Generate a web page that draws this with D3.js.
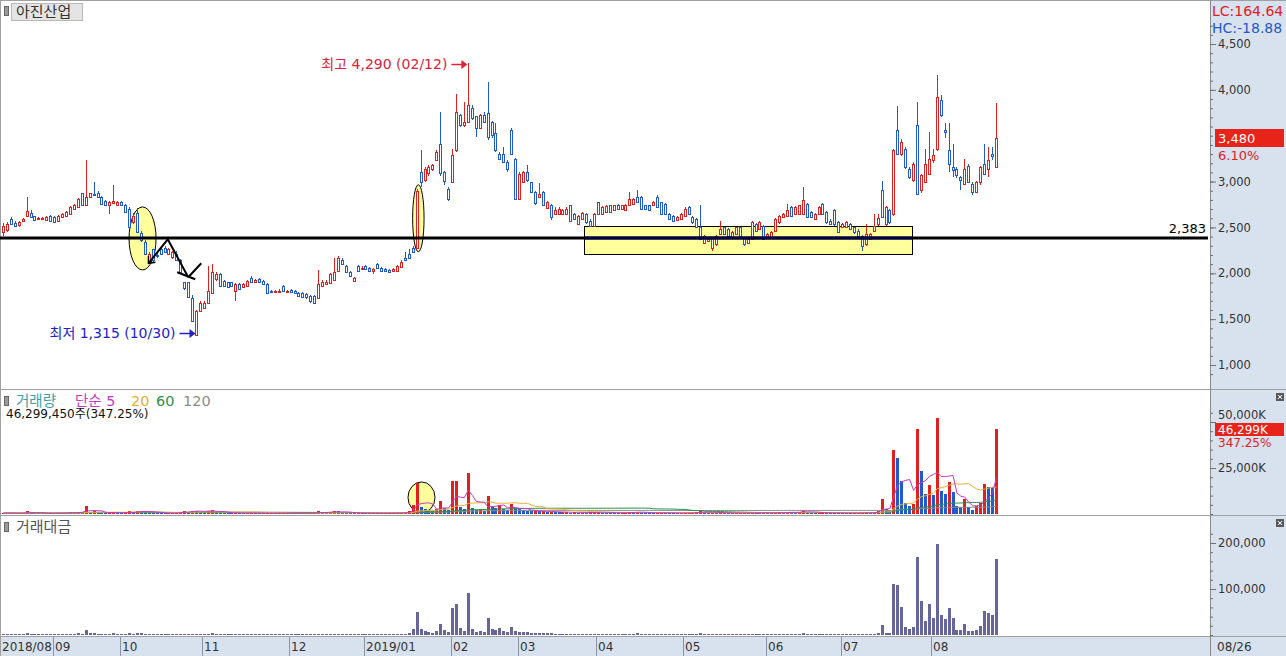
<!DOCTYPE html>
<html>
<head>
<meta charset="utf-8">
<script src="https://cdnjs.cloudflare.com/ajax/libs/d3/7.8.5/d3.min.js"></script>
<style>
  body { margin: 0; background: #fff; overflow: hidden; }
  svg { display: block; font-family: "DejaVu Sans", "Noto Sans CJK KR", sans-serif; }
</style>
</head>
<body>
<div id="chart"></div>
<script>
// Daily candles 2018/08 .. 2019/08/26, one row per month
var monthStart = [0, 13, 30, 51, 73, 92, 114, 131, 151, 173, 194, 213, 236];
var monthLabel = ["2018/08", "09", "10", "11", "12", "2019/01", "02", "03", "04", "05", "06", "07", "08"];
var lastDate = "08/26";

var openPx = [
  2450,2470,2590,2550,2530,2570,2630,2660,2620,2590,2595,2580,2630,
  2610,2575,2610,2630,2650,2700,2720,2870,2750,2830,2860,2880,2830,2790,2750,2770,2740,
  2775,2750,2700,2560,2660,2440,2340,2120,2260,2200,2260,2280,2210,2180,2210,2140,1900,1900,1730,1330,1590,
  1625,1680,1790,1935,1990,1920,1900,1900,1810,1880,1850,1860,1950,1900,1940,1920,1880,1810,1800,1810,1860,1800,
  1820,1810,1790,1790,1770,1750,1750,1730,1860,1880,1890,1930,2030,2150,2080,2010,1920,2080,2050,
  2080,2060,2030,2100,2060,2050,2040,2020,2030,2070,2170,2210,2280,2280,3100,3020,3090,3140,3230,3415,3100,2920,
  2995,3340,3725,3615,3650,3800,3710,3580,3725,3745,3650,3525,3305,3305,3215,3560,3250,
  2810,2995,3105,2995,2885,2830,2885,2715,2740,2650,2650,2650,2650,2740,2650,2540,2595,2650,2575,2520,
  2775,2650,2665,2740,2685,2750,2700,2685,2740,2760,2830,2830,2740,2740,2740,2830,2775,2755,2650,2630,2580,2595,
  2630,2720,2610,2595,2500,2335,2355,2280,2320,2430,2500,2485,2390,2430,2500,2390,2335,2375,2540,2485,2520,
  2390,2390,2465,2555,2610,2630,2720,2650,2650,2650,2755,2665,2595,2650,2755,2665,2575,2685,2555,
  2500,2500,2540,2500,2465,2410,2320,2375,2465,2540,2905,2540,2685,2650,3560,3305,3360,3140,3015,3615,2905,2995,3085,
  3230,3360,3890,3560,3340,3160,3140,3050,2975,3175,2975,2885,2995,3195,3140,3305,3160
];
var highPx = [
  2550,2560,2610,2565,2570,2600,2830,2690,2630,2610,2610,2620,2640,
  2620,2640,2660,2680,2730,2760,2820,2880,3230,2880,2990,2900,2840,2800,2790,2960,2790,
  2790,2760,2720,2660,2710,2460,2360,2230,2270,2220,2280,2300,2280,2240,2240,2160,1910,1910,1760,1600,1700,
  1700,2080,2100,2010,2000,1930,1910,1910,1890,1890,1890,1930,1970,1940,1950,1930,1890,1820,1820,1830,1870,1820,
  1830,1820,1800,1800,1780,1760,1760,2040,1930,1930,2000,2170,2190,2170,2090,2020,1960,2090,2080,
  2090,2070,2060,2110,2070,2060,2050,2060,2090,2140,2230,2260,2300,2920,3340,3160,3180,3190,3340,3760,3120,2940,
  3360,3960,3740,3870,4290,3830,3720,3740,3760,4090,3660,3635,3320,3380,3240,3580,3260,
  3100,3120,3180,3000,2900,2980,2900,2790,2760,2720,2720,2700,2720,2750,2660,2640,2670,2660,2590,2660,
  2780,2730,2740,2750,2750,2760,2750,2760,2885,2820,2910,2840,2750,2750,2790,2850,2780,2770,2660,2640,2620,2660,
  2720,2730,2620,2600,2740,2420,2390,2400,2420,2575,2510,2490,2460,2510,2510,2400,2390,2570,2550,2570,2530,
  2440,2460,2600,2640,2660,2760,2730,2730,2750,2940,2770,2680,2660,2730,2770,2680,2590,2700,2570,
  2550,2570,2550,2510,2480,2420,2540,2440,2650,2650,3010,2730,2700,3350,3820,3460,3380,3160,3210,3870,3080,3360,3540,
  3360,4165,3945,3635,3635,3415,3160,3060,3250,3190,2990,3010,3175,3415,3380,3380,3855
];
var lowPx = [
  2410,2450,2530,2510,2500,2560,2620,2600,2570,2580,2585,2570,2560,
  2550,2570,2600,2620,2640,2690,2710,2730,2740,2820,2840,2820,2750,2730,2650,2760,2730,
  2730,2660,2480,2540,2440,2340,2200,2100,2120,2170,2200,2220,2200,2160,2130,2000,1820,1730,1470,1315,1580,
  1610,1670,1780,1920,1850,1850,1840,1850,1700,1820,1840,1850,1890,1890,1890,1870,1780,1790,1790,1800,1800,1790,
  1790,1780,1740,1730,1720,1680,1670,1720,1850,1870,1880,1920,2020,2090,2000,1960,1910,2020,2040,
  2040,2020,1990,2050,2020,2010,2000,2010,2020,2060,2130,2160,2220,2270,2940,3000,3060,3120,3220,3060,2960,2790,
  2980,3320,3600,3600,3640,3670,3490,3570,3640,3450,3470,3320,3230,3200,3100,3290,2800,
  2800,2980,2990,2870,2750,2820,2730,2700,2580,2640,2640,2640,2640,2560,2580,2530,2580,2540,2500,2510,
  2640,2640,2660,2660,2680,2690,2690,2680,2730,2750,2770,2700,2690,2680,2730,2710,2640,2640,2580,2560,2570,2580,
  2620,2640,2540,2490,2360,2320,2340,2245,2300,2420,2420,2400,2380,2420,2400,2300,2330,2360,2450,2470,2360,
  2380,2380,2450,2540,2600,2620,2620,2640,2640,2640,2600,2600,2580,2640,2640,2540,2530,2520,2440,
  2490,2490,2470,2430,2400,2245,2300,2360,2450,2520,2600,2520,2540,2620,3290,3280,3140,3030,2990,2850,2880,2980,3070,
  3200,3330,3700,3480,3100,3050,3040,2905,2960,2980,2850,2870,2960,3070,3050,3240,3150
];
var closePx = [
  2520,2540,2540,2520,2555,2590,2680,2610,2580,2600,2600,2610,2570,
  2560,2630,2650,2665,2720,2750,2810,2740,2830,2870,2850,2830,2760,2740,2775,2790,2780,
  2740,2670,2500,2630,2450,2360,2210,2210,2140,2190,2210,2230,2260,2230,2140,2010,1840,1740,1480,1590,1680,
  1680,1810,2010,1990,1860,1860,1850,1860,1880,1830,1880,1920,1900,1930,1900,1880,1790,1800,1810,1810,1810,1810,
  1800,1790,1750,1740,1740,1700,1680,1880,1910,1910,1990,2010,2170,2100,2010,1970,1950,2030,2060,
  2050,2030,2050,2060,2030,2020,2010,2050,2080,2120,2140,2170,2230,2900,2990,3140,3160,3180,3320,3090,3010,2810,
  3285,3760,3615,3650,3835,3690,3580,3725,3650,3490,3505,3340,3250,3215,3140,3305,2810,
  3085,3105,3015,2885,2765,2860,2740,2775,2610,2685,2700,2685,2700,2575,2595,2630,2660,2555,2520,2650,
  2650,2720,2730,2665,2740,2700,2740,2750,2810,2810,2775,2705,2705,2685,2775,2720,2650,2650,2595,2575,2610,2650,
  2705,2650,2555,2500,2375,2410,2375,2390,2410,2485,2430,2410,2445,2500,2410,2320,2375,2555,2465,2555,2375,
  2430,2445,2595,2630,2650,2685,2630,2720,2740,2795,2610,2610,2650,2720,2650,2555,2540,2540,2445,
  2540,2555,2485,2445,2410,2300,2430,2430,2520,2600,2610,2720,2555,3340,3305,3435,3160,3050,3195,2865,3070,3195,3250,
  3285,3925,3725,3545,3195,3125,3070,3015,3140,2995,2885,2995,3160,3085,3230,3280,3480
];
// volume, thousand shares
var volumeK = [
  500,450,600,380,420,520,1500,700,480,350,300,420,380,
  400,650,500,550,900,800,1200,1100,4300,1300,1500,700,600,500,800,1200,600,
  450,600,1500,900,1700,1600,1400,900,700,500,450,420,500,480,700,1200,1500,1300,1900,1800,1300,
  1000,1800,2200,1100,800,600,500,450,600,400,380,450,500,420,400,380,500,350,300,330,400,350,
  330,300,350,380,420,500,600,1500,900,700,1100,1600,1400,900,700,500,450,600,400,
  380,350,420,400,350,300,320,380,500,700,900,1500,4900,16700,4000,2700,2000,1500,2500,7100,3300,2000,
  18000,18200,4000,2500,22500,3300,2000,2500,1800,9800,4000,3000,4900,2500,2000,5300,3000,
  2500,2000,1800,1500,1600,1400,1500,1200,1300,1000,900,1000,1100,800,900,700,800,750,900,1000,
  1100,800,700,650,600,550,700,800,1000,900,1300,800,600,550,500,700,800,600,550,500,450,500,
  600,700,800,900,1500,1000,700,800,600,900,600,500,450,500,550,600,450,800,600,500,700,
  500,450,800,900,700,1200,900,800,1100,2000,1200,700,500,600,700,800,500,450,600,
  500,450,400,420,500,800,900,600,700,1500,8100,2500,2000,35000,30400,18000,6000,4300,5400,46400,23500,11000,16000,
  10500,52000,12300,10900,17400,12000,4200,3800,8300,3700,2300,4200,6000,16300,14900,14500,46299
];
// trading value, million won
var amountM = [
  1200,1100,1500,950,1050,1300,4000,1800,1200,900,780,1080,970,
  1000,1700,1300,1450,2400,2200,3300,3100,11000,3700,4300,2000,1700,1400,2200,3300,1650,
  1250,1600,3800,2300,4300,3700,3100,1900,1500,1100,990,930,1100,1060,1500,2400,2800,2300,2900,2600,2100,
  1700,3200,4300,2200,1500,1100,900,850,1100,740,700,850,950,800,760,700,900,630,540,600,720,630,
  600,540,620,670,740,860,1020,2700,1700,1300,2100,3100,2900,1900,1450,1000,880,1220,820,
  790,720,860,830,720,610,650,770,1030,1470,1950,3300,13000,50700,12300,8300,6200,4700,8000,24000,10200,5800,
  59000,66700,14500,9000,92000,12000,7200,9100,6600,36000,14000,10300,16000,8000,6300,17000,9000,
  7500,6200,5500,4400,4500,4000,4200,3300,3500,2700,2400,2700,2900,2100,2400,1850,2100,1950,2300,2600,
  2900,2200,1900,1780,1650,1510,1920,2200,2800,2500,3600,2200,1630,1490,1380,1930,2150,1600,1430,1300,1170,1310,
  1600,1850,2080,2290,3700,2400,1660,1880,1420,2200,1480,1220,1090,1230,1350,1410,1060,1940,1500,1250,1700,
  1200,1100,2000,2300,1830,3150,2400,2100,2950,5000,3200,1850,1310,1580,1880,2100,1290,1160,1500,
  1260,1140,1000,1040,1220,1900,2100,1440,1700,3900,21700,5000,5000,111000,108000,61000,17400,13000,16600,170000,74000,30400,66700,
  38000,198000,43500,35000,58000,38000,11000,10000,23000,9000,8000,10000,19000,52000,47000,43500,165000
];

var priceTicks = [1000, 1500, 2000, 2500, 3000, 4000, 4500]; // 3,500 sits under the close flag
var volumeTicks = [25000, 50000];
var amountTicks = [100000, 200000];
var maPeriods = [5, 20, 60, 120];
var supportLevel = 2383;
var highMark = { idx: 118, price: 4290, text: "최고 4,290 (02/12)" };
var lowMark = { idx: 49, price: 1315, text: "최저 1,315 (10/30)" };

var svgWidth = 1286;
var svgHeight = 656;
var plotRight = 1210;

var red = "#e0201e";
var blue = "#1f5bd0";
var axisBg = "#d8e2ee";
var lineGray = "#a0a0a0";

var n = closePx.length;

// Scales
// ==============================
var x = d3.scaleBand()
  .domain(d3.range(n))
  .range([1.5, 1.5 + n * 3.94]);
var cx = i => x(i) + x.bandwidth() / 2;
// fractional index -> pixel, for the hand drawn marks
var pos = v => x.range()[0] + (v + 0.5) * x.step();
var left = i => Math.round(cx(i) - 1.5);

var yPrice = d3.scaleLinear().domain([1000, 4500]).range([365, 44]);
var yVol = d3.scaleLinear().domain([0, 50000]).range([514, 422]);
var yAmt = d3.scaleLinear().domain([0, 200000]).range([635, 543]);

var svg = d3.select("#chart")
  .append("svg")
  .attr("width", svgWidth)
  .attr("height", svgHeight);

// Backgrounds and panel frames
// ==============================
svg.append("rect").attr("width", svgWidth).attr("height", svgHeight).attr("fill", "#fff");
svg.append("rect")
  .attr("x", plotRight).attr("y", 0)
  .attr("width", svgWidth - plotRight).attr("height", svgHeight)
  .attr("fill", axisBg);
svg.append("rect")
  .attr("x", 0).attr("y", 637)
  .attr("width", svgWidth).attr("height", 19)
  .attr("fill", axisBg);

[0.5, 389.5, 515.5, 636.5].forEach(function(yy) {
  svg.append("line")
    .attr("x1", 0).attr("x2", svgWidth)
    .attr("y1", yy).attr("y2", yy)
    .attr("stroke", lineGray);
});
svg.append("line").attr("x1", 0.5).attr("x2", 0.5).attr("y1", 0).attr("y2", 656).attr("stroke", lineGray);
svg.append("line").attr("x1", plotRight + 0.5).attr("x2", plotRight + 0.5).attr("y1", 0).attr("y2", 656).attr("stroke", "#8a8a8a");

// Annotations under the candles
// ==============================
var annot = svg.append("g");
annot.append("ellipse")
  .attr("cx", pos(35.3)).attr("cy", yPrice(2380))
  .attr("rx", 13.5).attr("ry", 31.5)
  .attr("fill", "#ffff9c").attr("stroke", "#000");
annot.append("ellipse")
  .attr("cx", pos(105.3)).attr("cy", yPrice(2600))
  .attr("rx", 5.7).attr("ry", 33.5)
  .attr("fill", "#ffff9c").attr("stroke", "#000");
var boxL = Math.round(x(148)) - 0.5;
var boxR = Math.round(x(230) + 4) + 0.5;
annot.append("rect")
  .attr("x", boxL).attr("y", Math.round(yPrice(2517)) + 0.5)
  .attr("width", boxR - boxL)
  .attr("height", Math.round(yPrice(2212)) - Math.round(yPrice(2517)))
  .attr("fill", "#ffff9c").attr("stroke", "#000");

// Candles
// ==============================
var idx = d3.range(n);
var isUp = i => closePx[i] >= openPx[i];

var candles = svg.append("g");
candles.selectAll("line.wick")
  .data(idx)
  .enter()
  .append("line")
  .attr("x1", i => left(i) + 1.5)
  .attr("x2", i => left(i) + 1.5)
  .attr("y1", i => Math.round(yPrice(highPx[i])))
  .attr("y2", i => Math.round(yPrice(lowPx[i])))
  .attr("stroke", i => isUp(i) ? red : blue);

candles.selectAll("rect.body")
  .data(idx)
  .enter()
  .append("rect")
  .attr("x", i => left(i) + 0.5)
  .attr("y", i => Math.round(yPrice(Math.max(openPx[i], closePx[i]))) + 0.5)
  .attr("width", 2)
  .attr("height", i => Math.max(1, Math.round(yPrice(Math.min(openPx[i], closePx[i]))) - Math.round(yPrice(Math.max(openPx[i], closePx[i])))))
  .attr("fill", "#fff")
  .attr("stroke", i => isUp(i) ? red : blue);

// Support line at 2,383
// ==============================
var ySup = Math.round(yPrice(supportLevel));
svg.append("line")
  .attr("x1", 0).attr("x2", plotRight - 2)
  .attr("y1", ySup).attr("y2", ySup)
  .attr("stroke", "#000").attr("stroke-width", 3);
svg.append("line")
  .attr("x1", boxL + 0.5).attr("x2", boxR - 0.5)
  .attr("y1", ySup).attr("y2", ySup)
  .attr("stroke", "#000048").attr("stroke-width", 3);
svg.append("text")
  .attr("x", plotRight - 4).attr("y", ySup - 5)
  .attr("text-anchor", "end")
  .attr("font-size", 13)
  .attr("fill", "#000")
  .text(d3.format(",")(supportLevel));

// Hand drawn arrows around the October break
var zig = [[36.8, 2109], [41.7, 2371], [46.9, 1957]];
svg.append("path")
  .attr("d", d3.line().x(d => pos(d[0])).y(d => yPrice(d[1]))(zig))
  .attr("fill", "none").attr("stroke", "#000").attr("stroke-width", 2);
var zEnd = [pos(46.9), yPrice(1957)];
svg.append("path")
  .attr("d", `M${zEnd[0] - 11},${zEnd[1] - 5}L${zEnd[0] + 7},${zEnd[1] + 2}M${zEnd[0]},${zEnd[1]}L${zEnd[0] + 13},${zEnd[1] - 14}`)
  .attr("fill", "none").attr("stroke", "#000").attr("stroke-width", 2);
var zStart = [pos(36.8), yPrice(2109)];
svg.append("path")
  .attr("d", `M${zStart[0]},${zStart[1] - 7}L${zStart[0]},${zStart[1]}L${zStart[0] + 7},${zStart[1] - 1}`)
  .attr("fill", "none").attr("stroke", "#000").attr("stroke-width", 1.5);

// High / low markers
function marker(m, color, yText) {
  var tipX = cx(m.idx) - 1;
  var g = svg.append("g");
  g.append("text")
    .attr("x", tipX - 20).attr("y", yText + 5)
    .attr("text-anchor", "end")
    .attr("font-size", 14)
    .attr("fill", color)
    .text(m.text);
  g.append("line")
    .attr("x1", tipX - 16).attr("x2", tipX - 5)
    .attr("y1", yText + 0.5).attr("y2", yText + 0.5)
    .attr("stroke", color).attr("stroke-width", 1.5);
  g.append("path")
    .attr("d", `M${tipX - 6},${yText - 4}L${tipX},${yText + 0.5}L${tipX - 6},${yText + 5}Z`)
    .attr("fill", color);
}
marker(highMark, "#e0203a", Math.round(yPrice(highMark.price)) + 1);
marker(lowMark, "#2222c8", Math.round(yPrice(lowMark.price)) - 3);

// Volume bars and averages
// ==============================
var volColor = i => (i === 0 || volumeK[i] >= volumeK[i - 1]) ? red : blue;
function volBars(g, data) {
  g.selectAll("rect")
    .data(data)
    .enter()
    .append("rect")
    .attr("x", i => left(i))
    .attr("y", i => Math.min(513, Math.round(yVol(volumeK[i]))))
    .attr("width", 3)
    .attr("height", i => 514 - Math.min(513, Math.round(yVol(volumeK[i]))))
    .attr("fill", volColor);
}
volBars(svg.append("g"), idx);

svg.append("ellipse")
  .attr("cx", pos(106.1)).attr("cy", yVol(9000))
  .attr("rx", 13.5).attr("ry", 15.5)
  .attr("fill", "#ffff9c")
  .attr("stroke", "#000");
// bars inside the ellipse stay on top of it
volBars(svg.append("g"), d3.range(102, 111));

var maColors = ["#c438c4", "#e8b030", "#2f8f48", "#8c8c8c"];
function movingAvg(arr, p) {
  return arr.map((v, i) => d3.mean(arr.slice(Math.max(0, i - p + 1), i + 1)));
}
maPeriods.slice().reverse().forEach(function(p, k) {
  var ma = movingAvg(volumeK, p);
  svg.append("path")
    .datum(ma)
    .attr("d", d3.line().x((d, i) => cx(i)).y(d => yVol(d)))
    .attr("fill", "none")
    .attr("stroke", maColors[maPeriods.length - 1 - k])
    .attr("stroke-width", 1);
});

// Trading value bars
// ==============================
svg.append("g").selectAll("rect")
  .data(idx)
  .enter()
  .append("rect")
  .attr("x", i => left(i))
  .attr("y", i => Math.min(634, Math.round(yAmt(amountM[i]))))
  .attr("width", 3)
  .attr("height", i => 635 - Math.min(634, Math.round(yAmt(amountM[i]))))
  .attr("fill", "#66669a");

// Right axes
// ==============================
function styleAxis(g) {
  g.select(".domain").remove();
  g.selectAll("line").attr("stroke", "#707070");
  g.selectAll("text").attr("font-size", 11.5).attr("fill", "#333").attr("font-family", "DejaVu Sans");
}
svg.append("g")
  .attr("transform", `translate(${plotRight},0)`)
  .call(d3.axisRight(yPrice).tickValues(d3.range(900, 4800, 100)).tickSize(3).tickFormat(""))
  .call(styleAxis);
svg.append("g")
  .attr("transform", `translate(${plotRight},0)`)
  .call(d3.axisRight(yPrice).tickValues(priceTicks).tickSize(6).tickPadding(2).tickFormat(d3.format(",")))
  .call(styleAxis);

svg.append("g")
  .attr("transform", `translate(${plotRight},0)`)
  .call(d3.axisRight(yVol).tickValues(d3.range(0, 60000, 5000)).tickSize(3).tickFormat(""))
  .call(styleAxis);
svg.append("g")
  .attr("transform", `translate(${plotRight},0)`)
  .call(d3.axisRight(yVol).tickValues(volumeTicks).tickSize(6).tickPadding(2).tickFormat(d => d3.format(",")(d) + "K"))
  .call(styleAxis)
  // the top label peeks out just above the volume flag
  .call(g => g.selectAll(".tick text").filter(d => d === 50000).attr("y", -7));

svg.append("g")
  .attr("transform", `translate(${plotRight},0)`)
  .call(d3.axisRight(yAmt).tickValues(d3.range(0, 240000, 20000)).tickSize(3).tickFormat(""))
  .call(styleAxis);
svg.append("g")
  .attr("transform", `translate(${plotRight},0)`)
  .call(d3.axisRight(yAmt).tickValues(amountTicks).tickSize(6).tickPadding(2).tickFormat(d3.format(",")))
  .call(styleAxis);

// Current value flags
var lastClose = closePx[n - 1];
var chg = (lastClose / closePx[n - 2] - 1) * 100;
var yLast = Math.round(yPrice(lastClose));
svg.append("rect").attr("x", 1215).attr("y", yLast - 9).attr("width", 69).attr("height", 18).attr("fill", "#e8231a");
svg.append("text").attr("x", 1218).attr("y", yLast + 5).attr("font-size", 13).attr("fill", "#fff").text(d3.format(",")(lastClose));
svg.append("text").attr("x", 1218).attr("y", yLast + 22).attr("font-size", 13).attr("fill", red).text(d3.format(".2f")(chg) + "%");

var lastVol = volumeK[n - 1];
var yLV = Math.round(yVol(lastVol));
svg.append("rect").attr("x", 1215).attr("y", yLV - 6).attr("width", 69).attr("height", 13).attr("fill", "#e8231a");
svg.append("text").attr("x", 1218).attr("y", yLV + 5).attr("font-size", 12).attr("fill", "#fff").text(d3.format(",")(lastVol) + "K");
svg.append("text").attr("x", 1218).attr("y", yLV + 18).attr("font-size", 12).attr("fill", red).text("347.25%");

svg.append("text").attr("x", 1212).attr("y", 16).attr("font-size", 14).attr("fill", red).text("LC:164.64");
svg.append("text").attr("x", 1212).attr("y", 33).attr("font-size", 14).attr("fill", "#2458c8").text("HC:-18.88");

// close buttons
[393, 519].forEach(function(yy) {
  svg.append("rect").attr("x", 1276).attr("y", yy).attr("width", 8).attr("height", 8).attr("fill", "#5a5a5a");
  svg.append("path").attr("d", `M1278,${yy + 2}L1282,${yy + 6}M1282,${yy + 2}L1278,${yy + 6}`).attr("stroke", "#fff");
});

// Date axis
// ==============================
var dateAxis = svg.append("g");
dateAxis.selectAll("line")
  .data(monthStart.slice(1))
  .enter()
  .append("line")
  .attr("x1", i => Math.round(x(i)) + 0.5)
  .attr("x2", i => Math.round(x(i)) + 0.5)
  .attr("y1", 637).attr("y2", 656)
  .attr("stroke", "#8a96a8");
dateAxis.selectAll("text")
  .data(monthStart)
  .enter()
  .append("text")
  .attr("x", (i, k) => k === 0 ? 2 : Math.round(x(i)) + 2)
  .attr("y", 651)
  .attr("font-size", 12)
  .attr("fill", "#333")
  .text((i, k) => monthLabel[k]);
dateAxis.append("text")
  .attr("x", 1217).attr("y", 651)
  .attr("font-size", 12).attr("fill", "#333")
  .text(lastDate);

// Panel titles
// ==============================
function panelIcon(yy) {
  svg.append("rect").attr("x", 4.5).attr("y", yy + 0.5).attr("width", 4).attr("height", 9)
    .attr("fill", "#9a9a9a").attr("stroke", "#666");
}
panelIcon(6);
svg.append("rect").attr("x", 11.5).attr("y", 3.5).attr("width", 71).attr("height", 17)
  .attr("fill", "#e4e4e4").attr("stroke", "#b8b8b8");
svg.append("text").attr("x", 16).attr("y", 17).attr("font-size", 15).attr("fill", "#333").text("아진산업");

panelIcon(396);
var legend = [
  { t: "거래량", x: 16, c: "#3c9ea6" },
  { t: "단순 5", x: 75, c: "#c438c4" },
  { t: "20", x: 131, c: "#e8b030" },
  { t: "60", x: 156, c: "#2f8f48" },
  { t: "120", x: 183, c: "#8c8c8c" }
];
svg.selectAll("text.legend")
  .data(legend)
  .enter()
  .append("text")
  .attr("x", d => d.x).attr("y", 406)
  .attr("font-size", 14.5)
  .attr("fill", d => d.c)
  .text(d => d.t);
svg.append("text").attr("x", 6).attr("y", 418).attr("font-size", 12).attr("fill", "#111")
  .text(d3.format(",")(46299450) + "주(347.25%)");

panelIcon(522);
svg.append("text").attr("x", 16).attr("y", 532).attr("font-size", 15).attr("fill", "#555").text("거래대금");
</script>
</body>
</html>
